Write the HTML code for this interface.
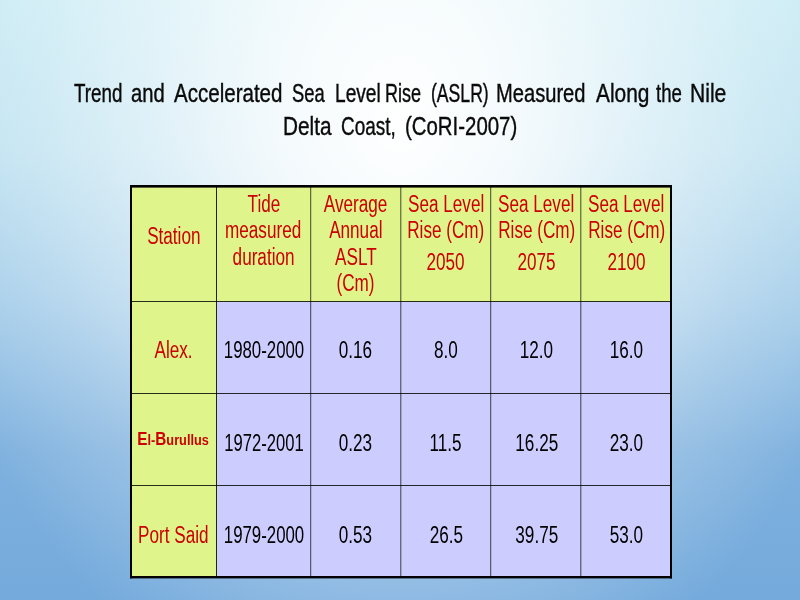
<!DOCTYPE html>
<html>
<head>
<meta charset="utf-8">
<title>Slide</title>
<style>
html,body{margin:0;padding:0;}
body{width:800px;height:600px;overflow:hidden;position:relative;
  font-family:"Liberation Sans",sans-serif;background:#7fb2df;}
#bg{position:absolute;left:0;top:0;width:800px;height:600px;
  background:
   radial-gradient(ellipse 489.6px 611.1px at 400px 120.2px, rgba(255,255,255,1) 0%, rgba(255,255,255,.824) 25%, rgba(255,255,255,.511) 50%, rgba(255,255,255,.225) 75%, rgba(255,255,255,0) 100%),
   linear-gradient(to bottom, rgb(200,234,244) 0px, rgb(189,225,240) 150px, rgb(163,204,233) 300px, rgb(127,177,222) 450px, rgb(116,170,220) 600px);}
.tw{position:absolute;color:#0a0a0a;-webkit-text-stroke:0.4px #0a0a0a;font-size:25.5px;line-height:30px;white-space:nowrap;transform-origin:0 0;}
#fg{position:absolute;left:0;top:0;width:800px;height:600px;will-change:transform;}
.cell{position:absolute;}
.y{background:#dff58b;}
.l{background:#ccccff;}
.ln{position:absolute;background:#000;}
.tx{position:absolute;width:200px;text-align:center;white-space:nowrap;font-size:23px;line-height:26.5px;color:#000;}
.tx span{display:inline-block;transform:scaleX(0.745);transform-origin:50% 50%;}
.r{color:#cc0000;}
.gap{display:block;height:5.25px;}
</style>
</head>
<body>
<div id="bg"></div>
<div id="fg">
<div class="tw" style="left:73.75px;top:78.36px;transform:scaleX(0.7366)">Trend</div>
<div class="tw" style="left:130.96px;top:78.36px;transform:scaleX(0.7928)">and</div>
<div class="tw" style="left:173.75px;top:78.36px;transform:scaleX(0.8054)">Accelerated</div>
<div class="tw" style="left:291.78px;top:78.36px;transform:scaleX(0.7192)">Sea</div>
<div class="tw" style="left:334.75px;top:78.36px;transform:scaleX(0.7505)">Level</div>
<div class="tw" style="left:385.34px;top:78.36px;transform:scaleX(0.7065)">Rise</div>
<div class="tw" style="left:431.31px;top:78.36px;transform:scaleX(0.6905)">(ASLR)</div>
<div class="tw" style="left:496.42px;top:78.36px;transform:scaleX(0.7894)">Measured</div>
<div class="tw" style="left:595.50px;top:78.36px;transform:scaleX(0.8198)">Along</div>
<div class="tw" style="left:656.25px;top:78.36px;transform:scaleX(0.7302)">the</div>
<div class="tw" style="left:690.10px;top:78.36px;transform:scaleX(0.8264)">Nile</div>
<div class="tw" style="left:283.37px;top:111.36px;transform:scaleX(0.8141)">Delta</div>
<div class="tw" style="left:340.51px;top:111.36px;transform:scaleX(0.7435)">Coast,</div>
<div class="tw" style="left:404.70px;top:111.36px;transform:scaleX(0.8000)">(CoRI-2007)</div>

<!-- table fills -->
<div class="cell y" style="left:130px;top:185px;width:542px;height:117px;"></div>
<div class="cell y" style="left:130px;top:301px;width:87px;height:277px;"></div>
<div class="cell l" style="left:217px;top:302px;width:455px;height:276px;"></div>
<svg width="800" height="600" viewBox="0 0 800 600" style="position:absolute;left:0;top:0;">
 <g fill="#000">
  <!-- outer border -->
  <rect x="130" y="185" width="542" height="2.6"/>
  <rect x="130" y="576" width="542" height="2.4"/>
  <rect x="130" y="185" width="2" height="393.4"/>
  <rect x="670" y="185" width="2" height="393.4"/>
 </g>
 <g fill="#000" fill-opacity="0.85">
  <!-- inner vertical -->
  <rect x="216" y="187" width="1" height="390"/>
 </g>
 <g fill="#000" fill-opacity="0.7">
  <rect x="310.2" y="187" width="1" height="390"/>
  <rect x="400.3" y="187" width="1" height="390"/>
  <rect x="490.2" y="187" width="1" height="390"/>
  <rect x="580.3" y="187" width="1" height="390"/>
 </g>
 <g fill="#000" fill-opacity="0.82">
  <!-- inner horizontal -->
  <rect x="131" y="301" width="540" height="1"/>
  <rect x="131" y="393" width="540" height="1"/>
  <rect x="131" y="485" width="540" height="1"/>
 </g>
</svg>
<div class="tx r" style="left:73.30px;top:223.00px;margin-left:0.6px;"><span>Station</span></div>
<div class="tx r" style="left:163.50px;top:190.90px;"><span>Tide</span><br><span>measured</span><br><span>duration</span></div>
<div class="tx r" style="left:255.50px;top:190.90px;"><span>Average</span><br><span>Annual</span><br><span>ASLT</span><br><span>(Cm)</span></div>
<div class="tx r" style="left:346.00px;top:190.90px;"><span>Sea Level</span><br><span>Rise (Cm)</span><i class="gap"></i><span>2050</span></div>
<div class="tx r" style="left:436.50px;top:190.90px;"><span>Sea Level</span><br><span>Rise (Cm)</span><i class="gap"></i><span>2075</span></div>
<div class="tx r" style="left:526.50px;top:190.90px;"><span>Sea Level</span><br><span>Rise (Cm)</span><i class="gap"></i><span>2100</span></div>
<div class="tx r" style="left:73.30px;top:337.30px;"><span>Alex.</span></div>
<div class="tx " style="left:163.50px;top:337.30px;"><span style="transform:scaleX(0.731)">1980-2000</span></div>
<div class="tx " style="left:255.50px;top:337.30px;"><span>0.16</span></div>
<div class="tx " style="left:346.00px;top:337.30px;"><span>8.0</span></div>
<div class="tx " style="left:436.50px;top:337.30px;"><span>12.0</span></div>
<div class="tx " style="left:526.50px;top:337.30px;"><span>16.0</span></div>
<div class="tx r" style="left:73.50px;top:425.90px;font-size:15px;font-weight:bold;"><span style="transform:scaleX(0.85)"><b style="font-size:18px">E</b>l-<b style="font-size:18px">B</b>urullus</span></div>
<div class="tx " style="left:163.50px;top:429.80px;"><span style="transform:scaleX(0.722)">1972-2001</span></div>
<div class="tx " style="left:255.50px;top:429.80px;"><span>0.23</span></div>
<div class="tx " style="left:346.00px;top:429.80px;"><span>11.5</span></div>
<div class="tx " style="left:436.50px;top:429.80px;"><span>16.25</span></div>
<div class="tx " style="left:526.50px;top:429.80px;"><span>23.0</span></div>
<div class="tx r" style="left:73.30px;top:522.00px;"><span>Port Said</span></div>
<div class="tx " style="left:163.50px;top:522.00px;"><span style="transform:scaleX(0.731)">1979-2000</span></div>
<div class="tx " style="left:255.50px;top:522.00px;"><span>0.53</span></div>
<div class="tx " style="left:346.00px;top:522.00px;"><span>26.5</span></div>
<div class="tx " style="left:436.50px;top:522.00px;"><span>39.75</span></div>
<div class="tx " style="left:526.50px;top:522.00px;"><span>53.0</span></div>
</div>
</body>
</html>
